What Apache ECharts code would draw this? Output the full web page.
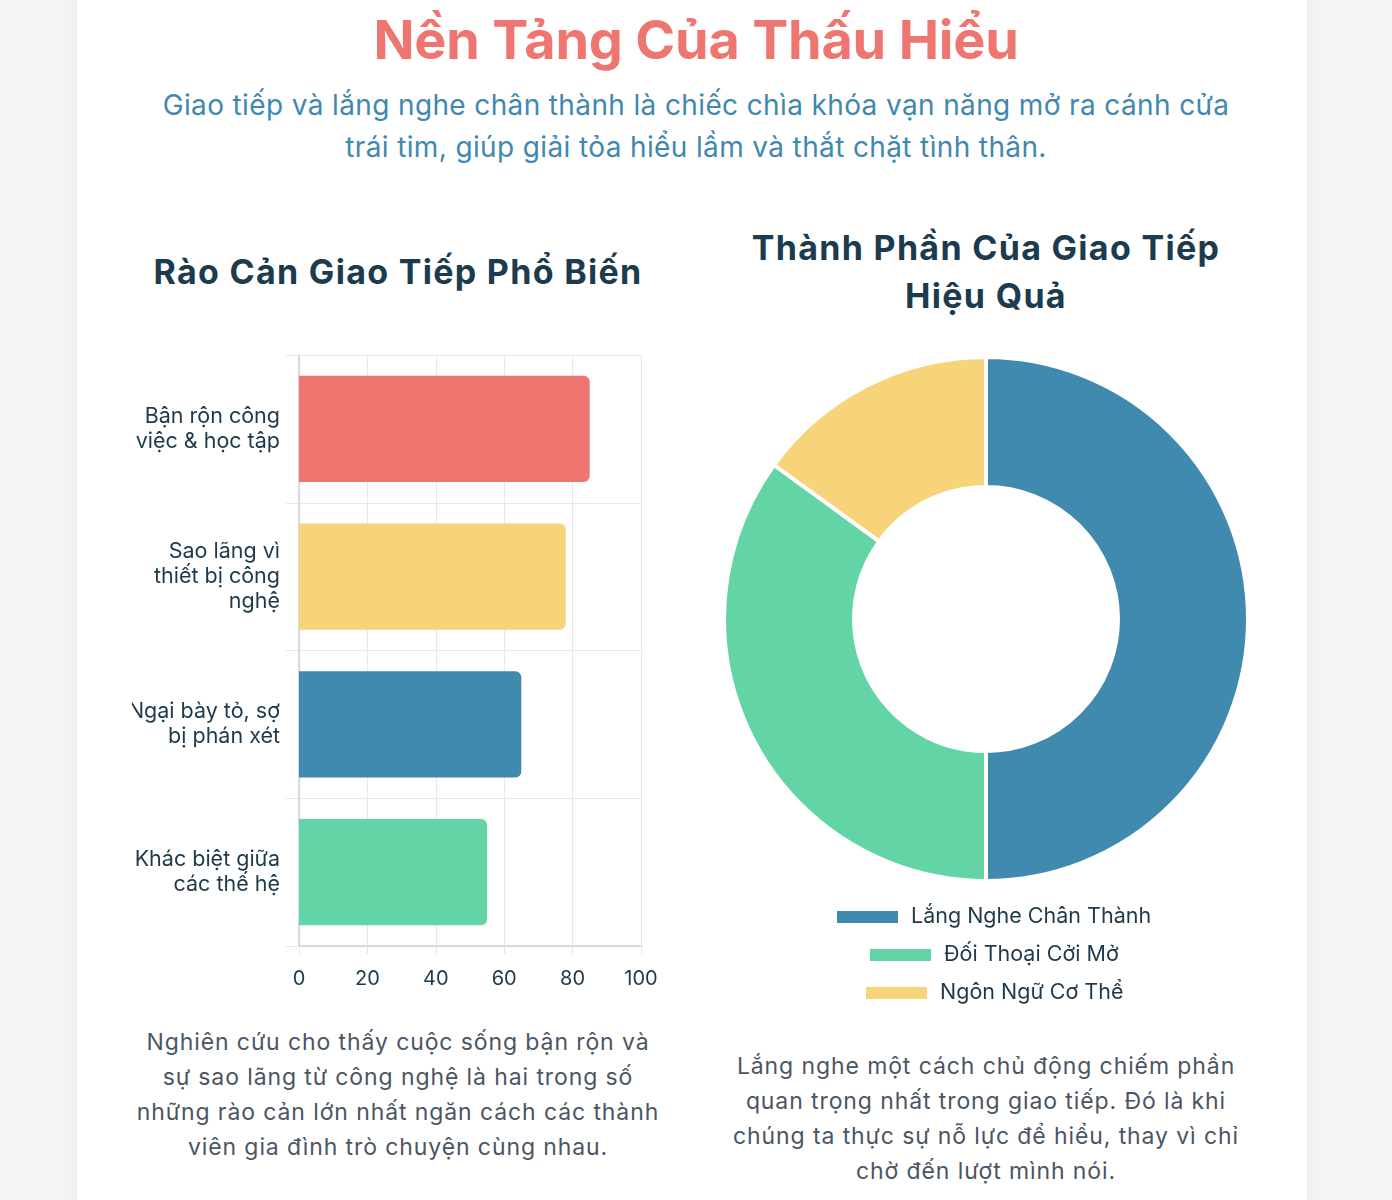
<!DOCTYPE html>
<html>
<head>
<meta charset="utf-8">
<script src="https://cdn.jsdelivr.net/npm/echarts@6/dist/echarts.min.js"></script>
<style>
  html, body { margin:0; padding:0; }
  body { width:1392px; height:1200px; background:#f4f4f5; font-family: Inter, "Noto Sans", sans-serif; position:relative; overflow:hidden; }
  .card { position:absolute; left:77px; top:-20px; width:1230px; height:1240px; background:#fff; box-shadow:0 0 10px rgba(0,0,0,0.06); }
  .t { position:absolute; text-align:center; white-space:nowrap; }
  #title { left:0; width:1392px; top:8px; font-size:54px; line-height:64px; font-weight:700; color:#EF7670; letter-spacing:-0.2px; }
  #sub { left:0; width:1392px; top:84px; font-size:28px; line-height:42px; color:#3F88B0; letter-spacing:0.37px; }
  .h2 { font-size:34px; line-height:48px; font-weight:700; color:#1C3B4E; letter-spacing:1.3px; }
  #lt { left:98px; width:600px; top:248px; }
  #rt { left:686px; width:600px; top:224px; }
  .p { font-size:23px; line-height:35px; color:#4B5563; letter-spacing:0.9px; }
  #lp { left:98px; width:600px; top:1025px; }
  #rp { left:686px; width:600px; top:1049px; }
  #bar { position:absolute; left:132px; top:340px; width:560px; height:660px; }
  #pie { position:absolute; left:700px; top:330px; width:572px; height:700px; }
</style>
</head>
<body>
<div class="card"></div>
<div class="t" id="title">Nền Tảng Của Thấu Hiểu</div>
<div class="t" id="sub">Giao tiếp và lắng nghe chân thành là chiếc chìa khóa vạn năng mở ra cánh cửa<br>trái tim, giúp giải tỏa hiểu lầm và thắt chặt tình thân.</div>
<div class="t h2" id="lt">Rào Cản Giao Tiếp Phổ Biến</div>
<div class="t h2" id="rt">Thành Phần Của Giao Tiếp<br>Hiệu Quả</div>
<div id="bar"></div>
<div id="pie"></div>
<div class="t p" id="lp">Nghiên cứu cho thấy cuộc sống bận rộn và<br>sự sao lãng từ công nghệ là hai trong số<br>những rào cản lớn nhất ngăn cách các thành<br>viên gia đình trò chuyện cùng nhau.</div>
<div class="t p" id="rp">Lắng nghe một cách chủ động chiếm phần<br>quan trọng nhất trong giao tiếp. Đó là khi<br>chúng ta thực sự nỗ lực để hiểu, thay vì chỉ<br>chờ đến lượt mình nói.</div>
<script>
const barCategories = ["Bận rộn công\nviệc & học tập", "Sao lãng vì\nthiết bị công\nnghệ", "Ngại bày tỏ, sợ\nbị phán xét", "Khác biệt giữa\ncác thế hệ"];
const barValues = [85, 78, 65, 55];
const barColors = ["#EF7670", "#F7D379", "#408AB0", "#63D4A5"];
const xTicks = [0, 20, 40, 60, 80, 100];

const pieNames = ["Lắng Nghe Chân Thành", "Đối Thoại Cởi Mở", "Ngôn Ngữ Cơ Thể"];
const pieValues = [50, 35, 15];
const pieColors = ["#408AB0", "#63D4A5", "#F7D379"];

const FONT = 'Inter, "Noto Sans", sans-serif';
const gridColor = '#E6E8EB';
const axisColor = '#CDD1D6';
const labelColor = '#1E3A4A';

const bar = echarts.init(document.getElementById('bar'));
bar.setOption({
  animation: false,
  grid: { left: 167, right: 51, top: 15, bottom: 54, containLabel: false, outerBoundsMode: 'none' },
  xAxis: {
    type: 'value', min: xTicks[0], max: xTicks[xTicks.length-1], interval: 20,
    axisLine: { show: true, lineStyle: { color: axisColor, width: 1.5 } },
    axisTick: { show: true, length: 8, lineStyle: { color: gridColor } },
    splitLine: { show: true, lineStyle: { color: gridColor, width: 1 } },
    axisLabel: { color: labelColor, fontSize: 20, fontFamily: FONT, margin: 23 }
  },
  yAxis: {
    type: 'category', data: barCategories, inverse: true,
    axisLine: { show: true, lineStyle: { color: axisColor, width: 1.5 } },
    axisTick: { show: true, length: 13, lineStyle: { color: gridColor } },
    splitLine: { show: true, lineStyle: { color: gridColor, width: 1 } },
    axisLabel: { color: labelColor, fontSize: 21.5, fontFamily: FONT, margin: 19, lineHeight: 25, align: 'right' }
  },
  series: [{
    type: 'bar', barWidth: '72%',
    data: barValues.map((v, i) => ({ value: v, itemStyle: { color: barColors[i], borderRadius: [0, 6, 6, 0] } }))
  }]
});

// measure legend text so each centred row sits like the reference
const ctx = document.createElement('canvas').getContext('2d');
ctx.font = '21.5px ' + FONT;
const legendBox = 63, legendGap = 12, legendCenter = 286 + 7;

const pie = echarts.init(document.getElementById('pie'));
pie.setOption({
  animation: false,
  legend: pieNames.map((n, i) => {
    const w = legendBox + legendGap + ctx.measureText(n).width;
    return {
      data: [n], left: Math.round(legendCenter - w / 2), top: 576 + i * 38,
      itemWidth: legendBox, itemHeight: 14, itemGap: 0, icon: 'rect', padding: 0,
      textStyle: { color: labelColor, fontSize: 21.5, fontFamily: FONT, padding: [0, 0, 0, legendGap - 5] }
    };
  }),
  series: [{
    type: 'pie', center: [286, 289], radius: [132, 262], startAngle: 90,
    label: { show: false }, labelLine: { show: false },
    itemStyle: { borderColor: '#fff', borderWidth: 4 },
    data: pieNames.map((n, i) => ({ name: n, value: pieValues[i], itemStyle: { color: pieColors[i] } }))
  }]
});
</script>
</body>
</html>
